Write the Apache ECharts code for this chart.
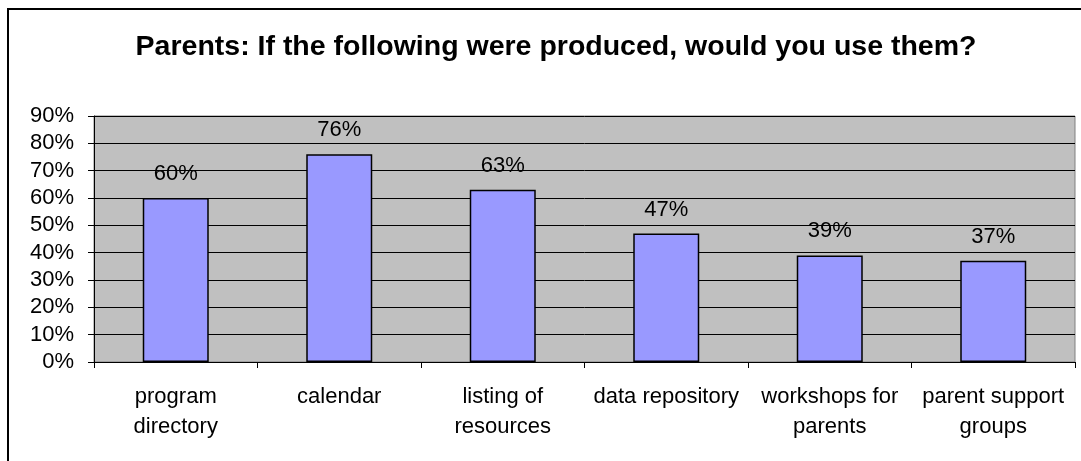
<!DOCTYPE html>
<html>
<head>
<meta charset="utf-8">
<script src="https://cdn.jsdelivr.net/npm/echarts@6/dist/echarts.min.js"></script>
<style>
html,body{margin:0;padding:0;background:#fff;}
#chart{width:1081px;height:461px;}
</style>
</head>
<body>
<div id="chart"></div>
<script>
const categories = ["program\ndirectory", "calendar", "listing of\nresources", "data repository", "workshops for\nparents", "parent support\ngroups"];
const values = [60, 76, 63, 47, 39, 37];
const yTicks = [0, 10, 20, 30, 40, 50, 60, 70, 80, 90];
const titleText = "Parents: If the following were produced, would you use them?";

const FONT = "'Liberation Sans', Arial, sans-serif";
const chart = echarts.init(document.getElementById('chart'), null, {renderer: 'canvas'});
chart.setOption({
  backgroundColor: '#ffffff',
  animation: false,
  title: {
    text: titleText,
    left: 551,
    textAlign: 'center',
    top: 28,
    textStyle: {fontFamily: FONT, fontSize: 28.5, fontWeight: 'bold', color: '#000'}
  },
  graphic: [{
    type: 'rect',
    shape: {x: 8, y: 9, width: 1120, height: 520},
    style: {fill: 'none', stroke: '#000', lineWidth: 2},
    silent: true,
    z: 100
  }],
  grid: {
    left: 94, right: 6, top: 116, bottom: 99,
    show: true, backgroundColor: '#c0c0c0', borderColor: '#808080', borderWidth: 1
  },
  xAxis: {
    type: 'category',
    data: categories,
    axisLine: {show: true, lineStyle: {color: '#000', width: 1}},
    axisTick: {show: true, length: 6, lineStyle: {color: '#000'}},
    axisLabel: {
      interval: 0, margin: 20, color: '#000', fontFamily: FONT, fontSize: 22, lineHeight: 30
    }
  },
  yAxis: {
    type: 'value',
    min: yTicks[0], max: yTicks[yTicks.length - 1], interval: 10,
    axisLine: {show: true, lineStyle: {color: '#000', width: 1}},
    axisTick: {show: true, length: 6, lineStyle: {color: '#000'}},
    splitLine: {show: true, lineStyle: {color: '#000', width: 1}},
    axisLabel: {
      margin: 20, color: '#000', fontFamily: FONT, fontSize: 22,
      formatter: '{value}%'
    }
  },
  series: [{
    type: 'bar',
    data: values,
    barWidth: 66,
    itemStyle: {color: '#9999ff', borderColor: '#000', borderWidth: 1.5},
    label: {
      show: true, position: 'top', distance: 13,
      formatter: '{c}%', color: '#000', fontFamily: FONT, fontSize: 22
    }
  }]
});
</script>
</body>
</html>
